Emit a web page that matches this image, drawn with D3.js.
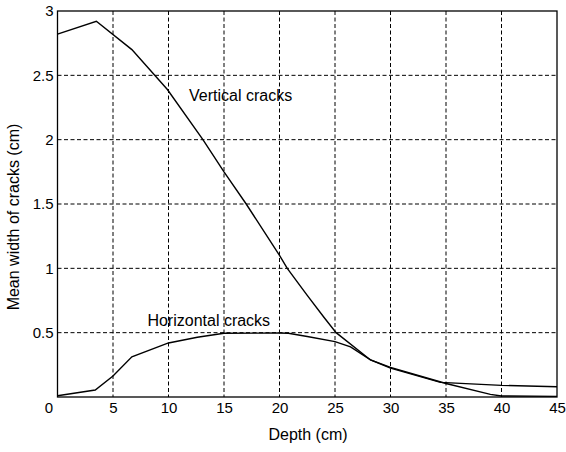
<!DOCTYPE html>
<html>
<head>
<meta charset="utf-8">
<script src="https://cdn.jsdelivr.net/npm/d3@7"></script>
<style>
  body { margin: 0; background: #fff; }
  svg { font-family: Arial, "Liberation Sans", sans-serif; }
  .grid line { stroke: #000; stroke-width: 1; stroke-dasharray: 4,2.5; }
  .curve { fill: none; stroke: #000; stroke-width: 1.4; }
</style>
</head>
<body>
<svg class="chart" width="566" height="452"></svg>
<script>
// vertical cracks
var vDepth = [0, 3.5, 6.7, 9.9, 13.1, 15, 17, 20, 20.7, 22.5, 24, 25.1, 28.2, 30, 34.5, 40, 45];
var vWidth = [2.82, 2.92, 2.70, 2.39, 2.0, 1.75, 1.5, 1.1, 1.0, 0.79, 0.62, 0.5, 0.288, 0.225, 0.114, 0.09, 0.08];

// horizontal cracks
var hDepth = [0, 3.4, 5, 6.7, 10, 12.6, 15, 20, 20.8, 22.5, 25, 26.4, 28.2, 30, 35, 39, 40, 45];
var hWidth = [0.01, 0.054, 0.163, 0.313, 0.42, 0.464, 0.495, 0.497, 0.495, 0.47, 0.43, 0.39, 0.288, 0.23, 0.105, 0.02, 0.008, 0.005];

var xTicks = [0, 5, 10, 15, 20, 25, 30, 35, 40, 45];
var yTicks = [0.5, 1, 1.5, 2, 2.5, 3];

var svg = d3.select(".chart");
var plotL = 57.5, plotR = 557, plotT = 11, plotB = 397;

var x = d3.scaleLinear().domain([0, 45]).range([plotL, plotR]);
var y = d3.scaleLinear().domain([0, 3]).range([plotB, plotT]);

// dashed grid
var grid = svg.append("g").attr("class", "grid");
grid.selectAll()
    .data(xTicks.slice(1, -1)).enter()
    .append("line")
    .attr("x1", function(d) { return x(d) })
    .attr("x2", function(d) { return x(d) })
    .attr("y1", plotT)
    .attr("y2", plotB);
grid.selectAll()
    .data(yTicks.slice(0, -1)).enter()
    .append("line")
    .attr("y1", function(d) { return y(d) })
    .attr("y2", function(d) { return y(d) })
    .attr("x1", plotL)
    .attr("x2", plotR);

// frame
svg.append("rect")
    .attr("x", plotL).attr("y", plotT)
    .attr("width", plotR - plotL).attr("height", plotB - plotT)
    .attr("fill", "none").attr("stroke", "#000").attr("stroke-width", 1.3);

// axes (labels only, ticks are hidden by the grid)
var xAxis = svg.append("g")
    .attr("transform", "translate(0," + plotB + ")")
    .call(d3.axisBottom(x).tickValues(xTicks).tickSize(0).tickPadding(5));
xAxis.select(".domain").remove();
xAxis.selectAll("text")
    .attr("font-size", 15).attr("font-family", "Arial, 'Liberation Sans', sans-serif").attr("fill", "#000")
    .attr("dx", function(d) { return d === 0 ? -9 : 0 });

var yAxis = svg.append("g")
    .attr("transform", "translate(" + plotL + ",0)")
    .call(d3.axisLeft(y).tickValues(yTicks).tickSize(0).tickFormat(d3.format("")).tickPadding(4));
yAxis.select(".domain").remove();
yAxis.selectAll("text")
    .attr("font-size", 15).attr("font-family", "Arial, 'Liberation Sans', sans-serif").attr("fill", "#000");

// curves
var line = d3.line()
    .x(function(d) { return x(d[0]) })
    .y(function(d) { return y(d[1]) });

svg.append("path")
    .attr("class", "curve")
    .attr("d", line(d3.zip(vDepth, vWidth)));
svg.append("path")
    .attr("class", "curve")
    .attr("d", line(d3.zip(hDepth, hWidth)));

// annotations
svg.append("text")
    .attr("x", x(11.85)).attr("y", y(2.3))
    .attr("font-size", 16)
    .text("Vertical cracks");
svg.append("text")
    .attr("x", x(8.1)).attr("y", y(0.553))
    .attr("font-size", 16)
    .text("Horizontal cracks");

// axis titles
svg.append("text")
    .attr("x", 308).attr("y", 440)
    .attr("text-anchor", "middle")
    .attr("font-size", 16)
    .text("Depth (cm)");
svg.append("text")
    .attr("transform", "translate(19,217) rotate(-90)")
    .attr("text-anchor", "middle")
    .attr("font-size", 16)
    .text("Mean width of cracks (cm)");
</script>
</body>
</html>
